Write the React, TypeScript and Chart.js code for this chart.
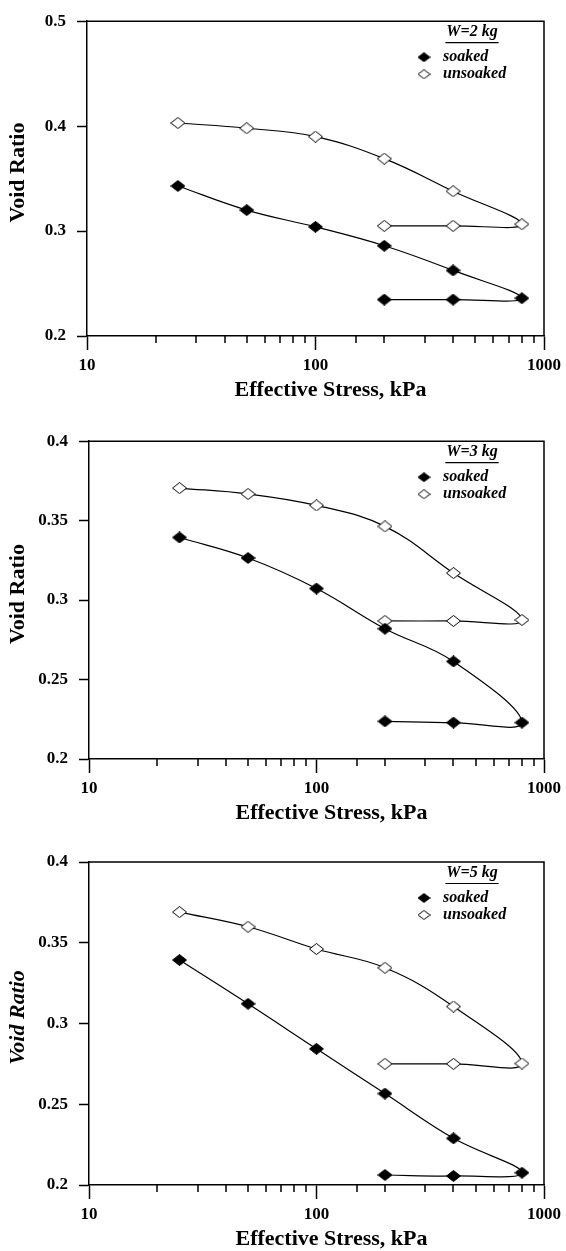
import React, { useEffect, useRef } from 'react';
import { Chart, registerables } from 'chart.js';

Chart.register(...registerables);

// ---------- data ----------
const STRESS = [25, 50, 100, 200, 400, 800, 400, 200];
const X_TICK_LABELS = ['10', '100', '1000'];
const X_TITLE = 'Effective Stress, kPa';
const Y_TITLE = 'Void Ratio';
const LEGEND_SOAKED = 'soaked';
const LEGEND_UNSOAKED = 'unsoaked';

const HEADER_2KG = 'W=2 kg';
const Y_TICKS_2KG = ['0.2', '0.3', '0.4', '0.5'];
const SOAKED_2KG = [0.343, 0.32, 0.304, 0.286, 0.2625, 0.236, 0.2347, 0.2347];
const UNSOAKED_2KG = [0.403, 0.398, 0.39, 0.369, 0.338, 0.3065, 0.305, 0.305];

const HEADER_3KG = 'W=3 kg';
const Y_TICKS_3KG = ['0.2', '0.25', '0.3', '0.35', '0.4'];
const SOAKED_3KG = [0.3394, 0.3265, 0.3073, 0.282, 0.2614, 0.2229, 0.2229, 0.2237];
const UNSOAKED_3KG = [0.3705, 0.3668, 0.3596, 0.3464, 0.317, 0.2875, 0.2869, 0.2869];

const HEADER_5KG = 'W=5 kg';
const Y_TICKS_5KG = ['0.2', '0.25', '0.3', '0.35', '0.4'];
const SOAKED_5KG = [0.3393, 0.3122, 0.2843, 0.2566, 0.2289, 0.2076, 0.2056, 0.2062];
const UNSOAKED_5KG = [0.369, 0.3599, 0.3461, 0.3345, 0.3105, 0.2752, 0.275, 0.275];

const FONT = '"Liberation Serif", "Times New Roman", serif';

function isMajor(v: number) {
  const lg = Math.log10(v);
  return Math.abs(lg - Math.round(lg)) < 1e-9;
}

function makeDiamond(w: number, h: number, filled: boolean) {
  const c = document.createElement('canvas');
  c.width = w;
  c.height = h;
  const g = c.getContext('2d')!;
  g.beginPath();
  g.moveTo(0.5, h / 2);
  g.lineTo(w / 2, 0.5);
  g.lineTo(w - 0.5, h / 2);
  g.lineTo(w / 2, h - 0.5);
  g.closePath();
  g.fillStyle = filled ? '#000' : '#fff';
  g.fill();
  g.lineWidth = 1;
  g.strokeStyle = '#000';
  g.stroke();
  return c;
}

const decorPlugin = {
  id: 'decor',
  afterDraw(chart: any, _args: any, opts: any) {
    const { ctx, chartArea: a } = chart;
    const xs = chart.scales.x;
    ctx.save();
    ctx.strokeStyle = '#000';
    ctx.lineWidth = 1.5;
    ctx.beginPath();
    ctx.moveTo(a.left, a.top);
    ctx.lineTo(a.right, a.top);
    ctx.lineTo(a.right, a.bottom);
    for (const t of xs.ticks) {
      if (isMajor(t.value)) continue;
      const px = Math.round(xs.getPixelForValue(t.value));
      ctx.moveTo(px, a.bottom);
      ctx.lineTo(px, a.bottom + 7);
    }
    ctx.stroke();

    ctx.fillStyle = '#000';
    ctx.textAlign = 'center';
    ctx.textBaseline = 'middle';
    ctx.font = `bold 22px ${FONT}`;
    ctx.fillText(opts.xTitle, (a.left + a.right) / 2 + 15, a.bottom + 54);

    ctx.save();
    ctx.translate(18, (a.top + a.bottom) / 2 - 6);
    ctx.rotate(-Math.PI / 2);
    ctx.font = `${opts.yItalic ? 'italic ' : ''}bold 22px ${FONT}`;
    ctx.fillText(opts.yTitle, 0, 0);
    ctx.restore();

    // legend
    const R = a.right;
    const T = a.top;
    ctx.font = `italic bold 16px ${FONT}`;
    ctx.textAlign = 'center';
    const hx = R - 72;
    ctx.fillText(opts.header, hx, T + 11);
    const hw = ctx.measureText(opts.header).width;
    ctx.lineWidth = 1.2;
    ctx.beginPath();
    ctx.moveTo(hx - hw / 2 - 1, T + 21.5);
    ctx.lineTo(hx + hw / 2 + 1, T + 21.5);
    ctx.stroke();
    const mk1 = opts.legendFilled;
    const mk2 = opts.legendOpen;
    ctx.drawImage(mk1, R - 120 - mk1.width / 2, T + 36 - mk1.height / 2);
    ctx.drawImage(mk2, R - 120 - mk2.width / 2, T + 53 - mk2.height / 2);
    ctx.textAlign = 'left';
    ctx.fillText(opts.soakedLabel, R - 101, T + 36);
    ctx.fillText(opts.unsoakedLabel, R - 101, T + 53);
    ctx.restore();
  },
};

type PanelProps = {
  top: number;
  height: number;
  padTop: number;
  axisH: number;
  yAxisW: number;
  yTicks: string[];
  yStep: number;
  soaked: number[];
  unsoaked: number[];
  header: string;
  yItalic: boolean;
};

function Panel(p: PanelProps) {
  const ref = useRef<HTMLCanvasElement | null>(null);
  useEffect(() => {
    if (!ref.current) return;
    const filledPt = makeDiamond(15, 12, true);
    const openPt = makeDiamond(15, 12, false);
    const legFilled = makeDiamond(13, 10, true);
    const legOpen = makeDiamond(13, 10, false);
    const yMin = parseFloat(p.yTicks[0]);
    const yMax = parseFloat(p.yTicks[p.yTicks.length - 1]);
    const chart = new Chart(ref.current, {
      type: 'line',
      data: {
        datasets: [
          {
            label: LEGEND_SOAKED,
            data: STRESS.map((x, i) => ({ x, y: p.soaked[i] })),
            borderColor: '#000',
            borderWidth: 1.2,
            tension: 0.4,
            fill: false,
            pointStyle: filledPt as any,
          },
          {
            label: LEGEND_UNSOAKED,
            data: STRESS.map((x, i) => ({ x, y: p.unsoaked[i] })),
            borderColor: '#000',
            borderWidth: 1.2,
            tension: 0.4,
            fill: false,
            pointStyle: openPt as any,
          },
        ],
      },
      options: {
        animation: false,
        responsive: false,
        maintainAspectRatio: false,
        layout: { padding: { top: p.padTop, right: 18, left: 0, bottom: 0 } },
        plugins: {
          legend: { display: false },
          tooltip: { enabled: false },
          decor: {
            xTitle: X_TITLE,
            yTitle: Y_TITLE,
            yItalic: p.yItalic,
            header: p.header,
            soakedLabel: LEGEND_SOAKED,
            unsoakedLabel: LEGEND_UNSOAKED,
            legendFilled: legFilled,
            legendOpen: legOpen,
          },
        } as any,
        scales: {
          x: {
            type: 'logarithmic',
            min: 10,
            max: 1000,
            afterFit: (s: any) => {
              s.height = p.axisH;
            },
            border: { display: true, color: '#000', width: 1.5 },
            grid: {
              drawOnChartArea: false,
              drawTicks: true,
              tickLength: 14,
              tickWidth: 1.5,
              tickColor: (c: any) => (c.tick && isMajor(c.tick.value) ? '#000' : 'rgba(0,0,0,0)'),
            },
            ticks: {
              autoSkip: false,
              maxRotation: 0,
              padding: 5,
              color: '#000',
              font: { family: FONT, size: 17, weight: 'bold' },
              callback: (v: any) => {
                const s = X_TICK_LABELS.find((l) => Math.abs(parseFloat(l) - Number(v)) < 1e-6);
                return s ?? '';
              },
            },
          },
          y: {
            type: 'linear',
            min: yMin,
            max: yMax,
            afterFit: (s: any) => {
              s.width = p.yAxisW;
            },
            border: { display: true, color: '#000', width: 1.5 },
            grid: {
              drawOnChartArea: false,
              drawTicks: true,
              tickLength: 10,
              tickWidth: 1.5,
              tickColor: '#000',
            },
            ticks: {
              stepSize: p.yStep,
              padding: 11,
              color: '#000',
              font: { family: FONT, size: 17, weight: 'bold' },
              callback: (v: any) => {
                const s = p.yTicks.find((l) => Math.abs(parseFloat(l) - Number(v)) < 1e-6);
                return s ?? '';
              },
            },
          },
        } as any,
      },
      plugins: [decorPlugin as any],
    });
    return () => chart.destroy();
  }, []);
  return (
    <div style={{ position: 'absolute', left: 0, top: p.top, width: 566, height: p.height }}>
      <canvas ref={ref} width={566} height={p.height} style={{ display: 'block' }} />
    </div>
  );
}

export default function App() {
  return (
    <div style={{ position: 'absolute', left: 0, top: 0, width: 566, height: 1251, background: '#fff' }}>
      <Panel top={0} height={410} padTop={13} axisH={74} yAxisW={87} yTicks={Y_TICKS_2KG} yStep={0.1}
        soaked={SOAKED_2KG} unsoaked={UNSOAKED_2KG} header={HEADER_2KG} yItalic={false} />
      <Panel top={420} height={415} padTop={16} axisH={76} yAxisW={89} yTicks={Y_TICKS_3KG} yStep={0.05}
        soaked={SOAKED_3KG} unsoaked={UNSOAKED_3KG} header={HEADER_3KG} yItalic={false} />
      <Panel top={835} height={416} padTop={27} axisH={66} yAxisW={89} yTicks={Y_TICKS_5KG} yStep={0.05}
        soaked={SOAKED_5KG} unsoaked={UNSOAKED_5KG} header={HEADER_5KG} yItalic={true} />
    </div>
  );
}
